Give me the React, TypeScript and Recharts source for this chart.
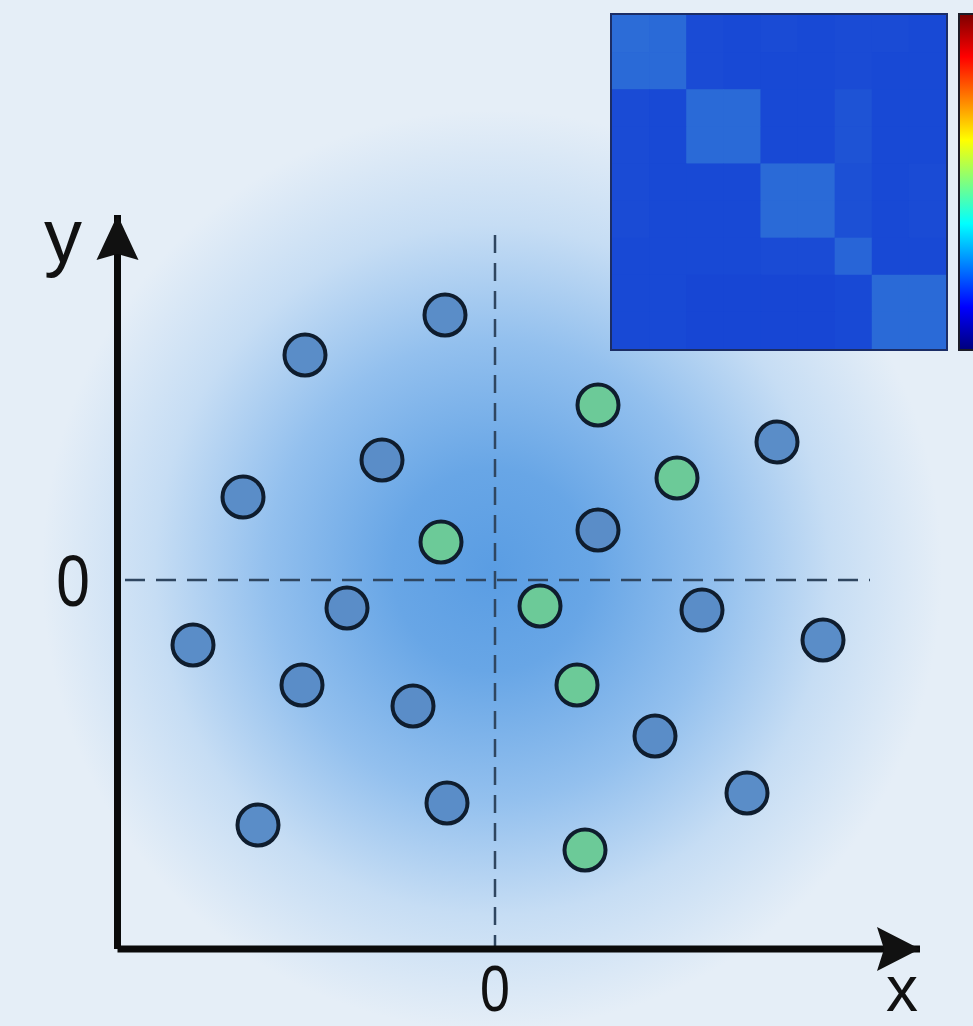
import React from 'react';
import {
  ScatterChart,
  Scatter,
  XAxis,
  YAxis,
  ReferenceLine,
  Label,
} from 'recharts';

// scatter points (units: arbitrary, 0 = centre of the cloud)
const blueX = [-1.0, -3.8, -2.26, -5.04, 5.64, 2.06, -2.96, -6.04, 4.14, 6.56, -3.86, -1.64, 3.2, -0.96, 5.04, -4.74];
const blueY = [5.3, 4.5, 2.4, 1.66, 2.76, 1.0, -0.56, -1.3, -0.6, -1.2, -2.1, -2.52, -3.12, -4.46, -4.26, -4.9];
const greenX = [2.06, 3.64, -1.08, 0.9, 1.64, 1.8];
const greenY = [3.5, 2.04, 0.76, -0.52, -2.1, -5.4];

const xTicks = [0];
const yTicks = [0];

// inset similarity matrix (row 0 at top)
const heatRows = [
  [0.85, 0.8, 0.2, 0.15, 0.2, 0.15, 0.2, 0.2, 0.15],
  [0.8, 0.8, 0.2, 0.15, 0.15, 0.15, 0.2, 0.15, 0.15],
  [0.2, 0.15, 0.8, 0.8, 0.15, 0.15, 0.35, 0.15, 0.15],
  [0.2, 0.15, 0.8, 0.8, 0.15, 0.15, 0.35, 0.15, 0.15],
  [0.2, 0.15, 0.15, 0.15, 0.8, 0.8, 0.3, 0.15, 0.2],
  [0.2, 0.15, 0.15, 0.15, 0.8, 0.8, 0.3, 0.15, 0.2],
  [0.15, 0.15, 0.15, 0.15, 0.2, 0.2, 0.7, 0.15, 0.15],
  [0.15, 0.15, 0.1, 0.1, 0.1, 0.1, 0.15, 0.8, 0.8],
  [0.15, 0.15, 0.1, 0.1, 0.1, 0.1, 0.15, 0.8, 0.8],
];
const heatLo = [20, 65, 212];
const heatHi = [48, 116, 216];
const jetStops = ['#7f0000', '#ff0000', '#ff7f00', '#ffff00', '#7fff7f', '#00ffff', '#007fff', '#0000ff', '#00007f'];

const blueData = blueX.map((x, i) => ({ x, y: blueY[i] }));
const greenData = greenX.map((x, i) => ({ x, y: greenY[i] }));

const heatData = heatRows.flatMap((row, r) =>
  row.map((v, c) => ({ x: c + 0.5, y: r + 0.5, v }))
);

const heatColor = (v: number) => {
  const c = heatLo.map((lo, i) => Math.round(lo + (heatHi[i] - lo) * v));
  return `rgb(${c[0]},${c[1]},${c[2]})`;
};

const FONT = '"Liberation Sans", Arial, sans-serif';

const dot = (fill: string) => (props: any) => (
  <circle cx={props.cx} cy={props.cy} r={20.5} fill={fill} stroke="#0f1d2e" strokeWidth={4} />
);

// narrow glyphs like the reference's condensed font
const Glyph = ({ x, y, size, children }: any) => (
  <text
    transform={`translate(${x},${y}) scale(0.84,1)`}
    textAnchor="middle"
    fontSize={size}
    fontFamily={FONT}
    fill="#111"
  >
    {children}
  </text>
);

const XTick = (props: any) => (
  <Glyph x={props.x} y={1011} size={64}>{props.payload.value}</Glyph>
);

const YTick = (props: any) => (
  <Glyph x={73} y={props.y + 26} size={72}>{props.payload.value}</Glyph>
);

const XArrow = (props: any) => {
  const { x, y, width } = props.viewBox;
  const tx = x + width;
  return (
    <g>
      <path d={`M${tx},${y} L${tx - 43},${y - 22} L${tx - 36},${y} L${tx - 43},${y + 22} Z`} fill="#111" />
      <text x={tx - 18} y={1011} textAnchor="middle" fontSize={64} fontFamily={FONT} fill="#111">x</text>
    </g>
  );
};

const YArrow = (props: any) => {
  const { x, y, width } = props.viewBox;
  const tx = x + width;
  return (
    <g>
      <path d={`M${tx},${y} L${tx - 21},${y + 45} L${tx},${y + 39} L${tx + 21},${y + 45} Z`} fill="#111" />
      <text x={63} y={262} textAnchor="middle" fontSize={76} fontFamily={FONT} fill="#111">y</text>
    </g>
  );
};

const cell = 334 / 9;
const HeatCell = (props: any) => (
  <rect
    x={props.cx - cell / 2}
    y={props.cy - cell / 2}
    width={cell + 0.6}
    height={cell + 0.6}
    fill={heatColor(props.payload.v)}
  />
);

export default function App() {
  return (
    <div
      style={{
        position: 'absolute',
        left: 0,
        top: 0,
        width: 973,
        height: 1026,
        overflow: 'hidden',
        background:
          'radial-gradient(ellipse 450px 460px at 492px 570px, #5a9de3 0%, #68a6e6 22%, #93c0ee 50%, #c6ddf4 75%, #e5eef7 100%)',
        backgroundColor: '#e7eff7',
      }}
    >
      <ScatterChart width={973} height={1026} margin={{ top: 215, right: 53, bottom: 0, left: 0 }}>
        <XAxis
          type="number"
          dataKey="x"
          domain={[-7.55, 8.5]}
          ticks={xTicks}
          tick={<XTick />}
          tickLine={false}
          height={77}
          axisLine={{ stroke: '#0a0a0a', strokeWidth: 7 }}
          allowDataOverflow
        >
          <Label content={<XArrow />} />
        </XAxis>
        <YAxis
          type="number"
          dataKey="y"
          domain={[-7.38, 7.3]}
          ticks={yTicks}
          tick={<YTick />}
          tickLine={false}
          width={117.5}
          axisLine={{ stroke: '#0a0a0a', strokeWidth: 7 }}
          allowDataOverflow
        >
          <Label content={<YArrow />} />
        </YAxis>
        <ReferenceLine
          segment={[{ x: 0, y: 6.9 }, { x: 0, y: -7.38 }]}
          stroke="#2f4660"
          strokeWidth={2.5}
          strokeDasharray="18 10"
        />
        <ReferenceLine
          segment={[{ x: -7.4, y: 0 }, { x: 7.5, y: 0 }]}
          stroke="#2f4660"
          strokeWidth={2.5}
          strokeDasharray="20 11"
        />
        <Scatter data={blueData} shape={dot('#5a8dc8')} isAnimationActive={false} />
        <Scatter data={greenData} shape={dot('#6cca98')} isAnimationActive={false} />
      </ScatterChart>

      <div
        style={{
          position: 'absolute',
          left: 610,
          top: 13,
          width: 338,
          height: 338,
          boxSizing: 'border-box',
          border: '2px solid #1b2d66',
          background: '#1a48d6',
        }}
      >
        <ScatterChart width={334} height={334} margin={{ top: 0, right: 0, bottom: 0, left: 0 }}>
          <XAxis type="number" dataKey="x" domain={[0, 9]} hide />
          <YAxis type="number" dataKey="y" domain={[0, 9]} reversed hide />
          <Scatter data={heatData} shape={<HeatCell />} isAnimationActive={false} />
        </ScatterChart>
      </div>

      <div
        style={{
          position: 'absolute',
          left: 958,
          top: 13,
          width: 22,
          height: 338,
          boxSizing: 'border-box',
          border: '2px solid #1c1c28',
          background: `linear-gradient(to bottom, ${jetStops.join(', ')})`,
        }}
      />
    </div>
  );
}
